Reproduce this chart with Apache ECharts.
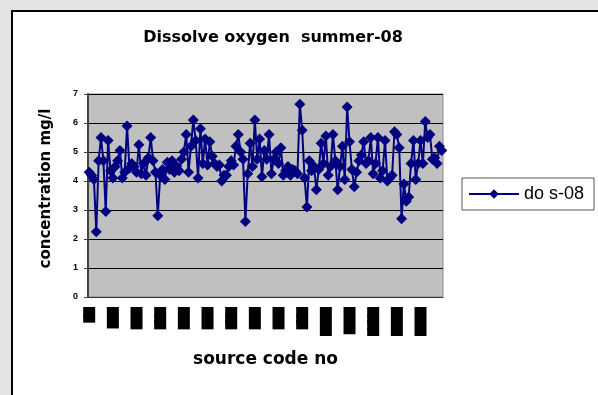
<!DOCTYPE html>
<html>
<head>
<meta charset="utf-8">
<script src="https://cdn.jsdelivr.net/npm/echarts@6/dist/echarts.min.js"></script>
<style>
  html, body { margin: 0; padding: 0; background: #e4e4e4; }
  #panel { position: absolute; left: 11px; top: 10px; width: 600px; height: 400px;
           background: #fff; border: 2px solid #000; box-sizing: border-box; }
  #chart { position: absolute; left: 0; top: 0; width: 598px; height: 395px; }
</style>
</head>
<body>
<div id="panel"></div>
<div id="chart"></div>
<script>
// source code numbers 1..150
var codes = [];
for (var k = 1; k <= 150; k++) codes.push(String(k));

// dissolved oxygen, summer 08 (mg/l)
var doS08 = [
  4.3, 4.2, 4.05, 2.25, 4.7, 5.5, 4.7, 2.95, 5.4, 4.35,
  4.1, 4.5, 4.7, 5.05, 4.1, 4.3, 5.9, 4.45, 4.6, 4.5,
  4.3, 5.25, 4.25, 4.6, 4.2, 4.8, 5.5, 4.7, 4.3, 2.8,
  4.2, 4.4, 4.05, 4.65, 4.4, 4.7, 4.3, 4.5, 4.35, 4.75,
  5.0, 5.6, 4.3, 5.2, 6.1, 5.4, 4.1, 5.8, 4.6, 5.45,
  4.55, 5.35, 4.85, 4.6, 4.5, 4.55, 4.0, 4.2, 4.2, 4.5,
  4.7, 4.55, 5.2, 5.6, 5.0, 4.75, 2.6, 4.25, 5.3, 4.5,
  6.1, 4.75, 5.45, 4.15, 5.05, 4.75, 5.6, 4.25, 4.75, 5.0,
  4.6, 5.15, 4.2, 4.35, 4.5, 4.2, 4.4, 4.35, 4.25, 6.65,
  5.75, 4.1, 3.1, 4.7, 4.35, 4.5, 3.7, 4.4, 5.3, 4.6,
  5.55, 4.2, 4.5, 5.6, 4.7, 3.7, 4.5, 5.2, 4.05, 6.55,
  5.35, 4.4, 3.8, 4.3, 4.7, 4.9, 5.35, 4.6, 4.7, 5.5,
  4.25, 4.6, 5.5, 4.1, 4.35, 5.4, 4.0, 4.1, 4.2, 5.7,
  5.6, 5.15, 2.7, 3.9, 3.3, 3.45, 4.6, 5.4, 4.05, 4.6,
  5.4, 4.6, 6.05, 5.5, 5.6, 4.75, 4.8, 4.6, 5.2, 5.05
];

var myChart = echarts.init(document.getElementById('chart'));

var option = {
    animation: false,
    title: {
        text: 'Dissolve oxygen  summer-08',
        left: 268,
        textAlign: 'center',
        top: 25,
        textStyle: {fontFamily: 'DejaVu Sans', fontSize: 16, fontWeight: 'bold', color: '#000'}
    },
    legend: {
        data: ['do s-08'],
        left: 462,
        top: 178,
        orient: 'vertical',
        padding: [7, 10, 7, 6],
        itemWidth: 50,
        itemHeight: 12,
        itemGap: 0,
        borderColor: '#555',
        borderWidth: 1,
        backgroundColor: '#fff',
        textStyle: {fontFamily: 'Liberation Sans', fontSize: 18, color: '#000'}
    },
    grid: {
        left: 88, right: 155, top: 94, bottom: 98,
        show: true,
        backgroundColor: '#c0c0c0',
        borderColor: '#888',
        borderWidth: 1
    },
    xAxis: {
        type: 'category',
        data: codes,
        boundaryGap: true,
        name: 'source code no',
        nameLocation: 'middle',
        nameGap: 54,
        nameTextStyle: {fontFamily: 'DejaVu Sans', fontSize: 17, fontWeight: 'bold', color: '#000'},
        axisLine: {lineStyle: {color: '#333', width: 1}},
        axisTick: {interval: 0, length: 4, lineStyle: {color: '#333'}},
        axisLabel: {
            interval: 9,
            rotate: 90,
            margin: 10,
            fontFamily: 'Liberation Sans',
            fontSize: 12,
            lineHeight: 12,
            color: '#000',
            backgroundColor: '#000',
            padding: [0, 5, 0, 4]
        },
        splitLine: {show: false}
    },
    yAxis: {
        type: 'value',
        min: 0, max: 7, interval: 1,
        name: 'concentration mg/l',
        nameLocation: 'middle',
        nameGap: 34,
        nameTextStyle: {fontFamily: 'DejaVu Sans', fontSize: 15, fontWeight: 'bold', color: '#000',
                        padding: [0, 0, 0, 14]},
        axisLine: {show: true, lineStyle: {color: '#444', width: 2}},
        axisTick: {show: true, length: 4, lineStyle: {color: '#444'}},
        axisLabel: {fontFamily: 'Liberation Sans', fontSize: 9, fontWeight: 'bold', color: '#000', margin: 10},
        splitLine: {lineStyle: {color: '#000', width: 1}}
    },
    series: [
        {
            name: 'do s-08',
            type: 'line',
            data: doS08,
            symbol: 'diamond',
            symbolSize: 11,
            showAllSymbol: true,
            lineStyle: {color: '#000080', width: 2},
            itemStyle: {color: '#000080'}
        }
    ]
};
myChart.setOption(option);
</script>
</body>
</html>
